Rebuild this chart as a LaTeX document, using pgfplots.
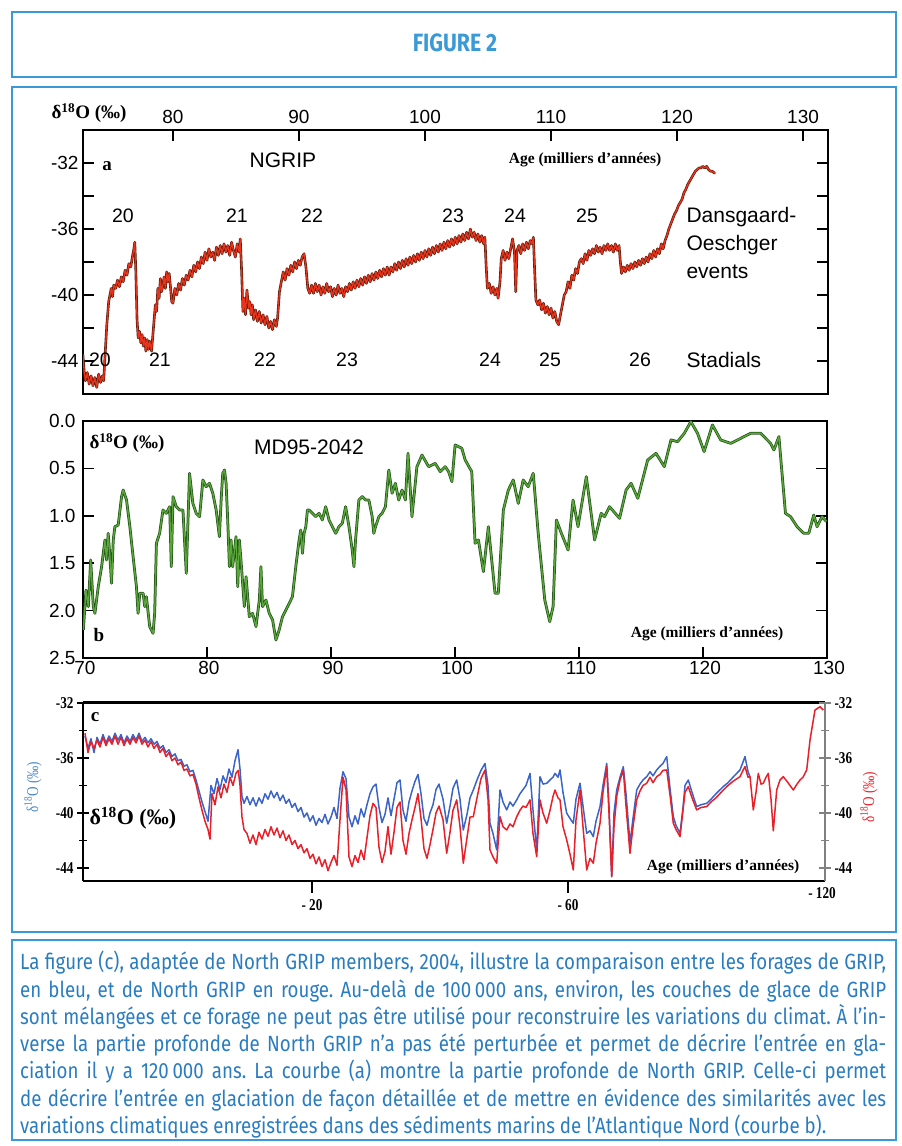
\documentclass[border=0pt]{standalone}
\usepackage{fontspec}
\setmainfont{Liberation Serif}
\setsansfont{Liberation Sans}
\newfontfamily\arial{Liberation Sans}
\newfontfamily\narrowserif[FakeStretch=0.8]{Liberation Serif}
\newfontfamily\capfont[FakeStretch=0.85]{Fira Sans}
\usepackage{pgfplots}
\usepackage{pgfplotstable}
\pgfplotsset{compat=1.18}
\definecolor{frameblue}{HTML}{3A9AD6}
\definecolor{capblue}{HTML}{2A7CC0}
\definecolor{ngred}{HTML}{E8341C}
\definecolor{ngdark}{HTML}{5A1A0A}
\definecolor{mdgreen}{HTML}{5BA83A}
\definecolor{mddark}{HTML}{24561A}
\definecolor{gripblue}{HTML}{3A64C8}
\definecolor{cred}{HTML}{E8202A}
\definecolor{lblblue}{HTML}{4A86C8}

\pgfplotstableread{
x y
72.85 -43.6
72.95 -44.6
73.05 -45.2
73.2 -44.7
73.35 -45.4
73.5 -44.9
73.65 -45.5
73.8 -45.0
73.95 -45.6
74.1 -44.8
74.25 -45.3
74.4 -44.9
74.5 -45.2
74.6 -43.8
74.75 -41.8
74.9 -40.4
75.0 -40.0
75.1 -39.6
75.2 -40.1
75.3 -39.4
75.45 -39.6
75.6 -39.1
75.75 -39.5
75.9 -38.9
76.05 -39.2
76.2 -38.5
76.35 -38.8
76.5 -38.1
76.65 -38.3
76.8 -37.6
76.9 -37.2
76.97 -36.8
77.05 -38.5
77.15 -41.5
77.24 -42.6
77.35 -42.2
77.45 -42.9
77.55 -42.4
77.65 -43.1
77.75 -42.6
77.85 -43.4
77.95 -42.7
78.05 -43.3
78.15 -42.8
78.3 -43.4
78.45 -42.0
78.6 -40.6
78.7 -41.0
78.8 -39.6
78.9 -40.2
79.0 -39.0
79.1 -39.8
79.2 -39.4
79.3 -38.9
79.4 -39.6
79.5 -38.6
79.6 -39.2
79.7 -38.7
79.8 -39.5
79.9 -40.4
80.0 -40.5
80.15 -39.6
80.3 -40.0
80.45 -39.3
80.6 -39.7
80.75 -39.0
80.9 -39.4
81.05 -38.8
81.2 -39.1
81.35 -38.5
81.5 -38.9
81.65 -38.2
81.8 -38.6
81.95 -38.0
82.1 -38.4
82.25 -37.7
82.4 -38.1
82.55 -37.4
82.7 -37.9
82.85 -37.2
83.0 -37.7
83.15 -37.4
83.3 -37.9
83.45 -37.1
83.6 -37.6
83.75 -37.0
83.9 -37.5
84.05 -36.9
84.2 -37.4
84.35 -37.0
84.5 -37.6
84.65 -36.8
84.8 -37.3
84.95 -37.7
85.1 -36.9
85.25 -37.4
85.34 -36.6
85.45 -38.6
85.55 -41.0
85.65 -40.2
85.75 -41.2
85.87 -39.7
86.0 -40.8
86.1 -40.4
86.2 -41.2
86.3 -40.6
86.4 -41.5
86.55 -40.9
86.7 -41.6
86.85 -41.0
87.0 -41.7
87.15 -41.2
87.3 -41.8
87.45 -41.3
87.6 -42.0
87.75 -41.6
87.9 -42.1
88.05 -41.5
88.2 -41.9
88.3 -41.4
88.45 -39.8
88.6 -39.2
88.75 -38.6
88.9 -39.1
89.05 -38.4
89.2 -38.8
89.35 -38.2
89.5 -38.6
89.65 -38.0
89.8 -38.4
89.95 -37.9
90.1 -38.2
90.25 -37.7
90.4 -37.5
90.55 -38.3
90.7 -39.6
90.85 -39.9
91.0 -39.4
91.15 -39.9
91.3 -39.3
91.45 -39.8
91.6 -39.4
91.75 -40.0
91.9 -39.5
92.05 -39.9
92.2 -39.3
92.35 -39.8
92.5 -39.5
92.65 -40.1
92.8 -39.6
92.95 -40.0
93.1 -39.4
93.25 -39.9
93.4 -39.6
93.55 -40.1
93.7 -39.5
93.85 -39.8
94.0 -39.3
94.15 -39.7
94.3 -39.2
94.45 -39.6
94.6 -39.1
94.75 -39.5
94.9 -39.0
95.05 -39.4
95.2 -38.9
95.35 -39.3
95.5 -38.8
95.65 -39.2
95.8 -38.7
95.95 -39.1
96.1 -38.6
96.25 -39.0
96.4 -38.5
96.55 -38.9
96.7 -38.4
96.85 -38.8
97.0 -38.3
97.15 -38.8
97.3 -38.3
97.45 -38.6
97.6 -38.1
97.75 -38.5
97.9 -38.0
98.05 -38.4
98.2 -37.9
98.35 -38.3
98.5 -37.8
98.65 -38.2
98.8 -37.7
98.95 -38.1
99.1 -37.6
99.25 -38.0
99.4 -37.5
99.55 -37.9
99.7 -37.4
99.85 -37.8
100.0 -37.3
100.15 -37.7
100.3 -37.2
100.45 -37.6
100.6 -37.1
100.75 -37.5
100.9 -37.0
101.05 -37.4
101.2 -36.9
101.35 -37.3
101.5 -36.8
101.65 -37.2
101.8 -36.7
101.95 -37.1
102.1 -36.6
102.25 -37.0
102.4 -36.5
102.55 -36.9
102.7 -36.4
102.85 -36.8
103.0 -36.3
103.15 -36.7
103.3 -36.2
103.45 -36.6
103.6 -36.0
103.75 -36.5
103.9 -36.2
104.05 -36.7
104.2 -36.3
104.35 -36.8
104.5 -36.4
104.65 -36.9
104.75 -36.5
104.85 -38.2
104.95 -39.6
105.1 -39.3
105.25 -39.9
105.4 -39.5
105.55 -40.0
105.7 -39.6
105.8 -40.2
105.95 -39.2
106.05 -37.8
106.2 -37.3
106.35 -37.9
106.5 -37.4
106.65 -37.8
106.8 -37.2
106.95 -36.6
107.1 -37.4
107.2 -39.8
107.3 -37.3
107.45 -37.0
107.6 -37.5
107.75 -36.9
107.9 -37.3
108.05 -36.8
108.2 -37.2
108.35 -36.7
108.5 -36.9
108.6 -36.5
108.7 -38.5
108.8 -40.3
108.95 -40.6
109.1 -40.3
109.25 -40.9
109.4 -40.5
109.55 -41.1
109.7 -40.7
109.85 -41.2
110.0 -40.8
110.15 -41.4
110.3 -41.0
110.45 -41.6
110.6 -41.8
110.75 -41.2
110.9 -40.6
111.05 -40.0
111.2 -39.8
111.35 -39.2
111.5 -39.6
111.65 -38.8
111.8 -39.1
111.95 -38.4
112.1 -38.7
112.25 -38.0
112.4 -37.8
112.55 -38.1
112.7 -37.5
112.85 -37.9
113.0 -37.3
113.15 -37.6
113.3 -37.2
113.45 -37.5
113.6 -37.0
113.75 -37.4
113.9 -37.1
114.05 -37.5
114.2 -37.0
114.35 -37.3
114.5 -36.9
114.65 -37.3
114.8 -37.0
114.95 -37.4
115.1 -36.9
115.25 -37.3
115.4 -37.0
115.5 -38.0
115.6 -38.7
115.75 -38.3
115.9 -38.6
116.05 -38.2
116.2 -38.5
116.35 -38.1
116.5 -38.4
116.65 -38.0
116.8 -38.3
116.95 -37.9
117.1 -38.2
117.25 -37.8
117.4 -38.1
117.55 -37.7
117.7 -38.0
117.85 -37.5
118.0 -37.8
118.15 -37.3
118.3 -37.7
118.45 -37.2
118.6 -37.5
118.75 -36.9
118.9 -37.2
119.05 -36.7
119.2 -36.4
119.35 -36.0
119.5 -35.7
119.65 -35.4
119.8 -35.1
119.95 -34.9
120.1 -34.6
120.25 -34.4
120.4 -34.2
120.55 -33.8
120.7 -33.6
120.85 -33.3
121.0 -33.1
121.15 -32.9
121.3 -32.7
121.45 -32.5
121.6 -32.4
121.75 -32.3
121.9 -32.3
122.05 -32.2
122.2 -32.3
122.35 -32.2
122.5 -32.4
122.65 -32.5
122.8 -32.5
122.95 -32.6
123.05 -32.6
}\ngrip

\pgfplotstableread{
x y
70.03 2.204
70.24 1.783
70.43 1.958
70.62 1.466
70.83 1.958
70.96 2.029
71.23 1.748
71.50 1.537
71.77 1.255
71.90 1.466
72.03 1.185
72.17 1.431
72.30 1.712
72.44 1.255
72.57 1.115
72.84 1.097
73.11 0.798
73.24 0.728
73.51 0.833
73.78 1.115
74.04 1.431
74.31 1.748
74.44 2.029
74.58 1.818
74.85 1.818
74.98 1.958
75.11 1.853
75.38 2.169
75.65 2.240
75.78 2.029
75.92 1.290
76.18 1.185
76.45 0.939
76.72 0.974
76.99 0.904
77.12 1.537
77.26 0.798
77.52 0.904
77.79 0.939
78.06 0.939
78.33 1.607
78.59 0.552
78.86 0.869
79.13 0.974
79.40 1.009
79.67 0.622
79.93 0.693
80.20 0.657
80.47 0.763
80.74 0.939
81.00 1.220
81.14 0.833
81.27 0.552
81.41 0.517
81.54 0.657
81.67 1.044
81.81 1.537
81.94 1.255
82.07 1.537
82.34 1.220
82.48 1.748
82.61 1.255
82.74 1.466
83.01 1.958
83.15 1.642
83.41 2.064
83.68 2.029
83.95 2.169
84.22 1.888
84.35 1.537
84.48 1.958
84.75 1.888
85.02 2.029
85.29 2.099
85.56 2.310
85.82 2.205
86.09 2.064
86.36 1.994
86.63 1.923
86.89 1.853
87.16 1.537
87.43 1.255
87.56 1.150
87.70 1.396
87.83 1.185
87.97 1.115
88.10 0.939
88.23 0.939
88.50 0.974
88.77 1.009
89.04 0.974
89.30 1.044
89.57 0.904
89.84 1.044
90.11 1.115
90.38 1.185
90.64 1.115
90.91 1.079
91.18 0.904
91.45 1.115
91.71 1.361
91.85 1.537
91.98 1.255
92.25 0.833
92.52 0.798
92.78 0.833
93.05 0.833
93.32 1.009
93.45 1.185
93.59 1.115
93.86 1.009
94.12 0.974
94.39 0.904
94.66 0.517
94.93 0.763
95.19 0.657
95.46 0.833
95.73 0.728
96.00 0.833
96.21 0.341
96.53 1.009
96.93 0.482
97.34 0.359
97.87 0.482
98.41 0.447
98.81 0.534
99.21 0.482
99.48 0.534
99.75 0.640
100.01 0.253
100.55 0.288
100.82 0.411
101.35 0.534
101.62 1.290
101.89 1.255
102.29 1.589
102.69 1.115
103.23 1.818
103.49 1.818
103.90 0.939
104.30 0.728
104.70 0.622
105.10 0.869
105.50 0.622
105.90 0.693
106.31 0.552
106.71 1.185
107.24 1.888
107.64 2.117
107.91 1.958
108.18 1.044
108.58 1.185
109.12 1.361
109.52 0.833
109.92 1.115
110.59 0.587
111.26 1.255
111.79 0.974
112.06 1.009
112.46 0.904
113.27 1.027
113.80 0.728
114.20 0.657
114.74 0.816
115.54 0.411
116.21 0.341
116.88 0.482
117.42 0.200
117.95 0.218
118.49 0.130
119.02 0.007
119.56 0.130
120.09 0.323
120.76 0.042
121.43 0.200
122.24 0.236
123.04 0.183
123.84 0.130
124.65 0.130
125.45 0.236
125.72 0.306
126.12 0.165
126.65 0.974
127.06 1.009
127.59 1.115
128.13 1.185
128.53 1.185
128.93 0.992
129.20 1.115
129.60 1.009
129.95 1.060
}\mdcore

\pgfplotstableread{
x y
2 -34.4
5 -35.3
8 -34.6
11 -35.6
14 -34.5
17 -35.0
20 -34.3
23 -34.9
26 -34.4
29 -34.8
32 -34.2
35 -34.7
38 -34.3
41 -34.9
44 -34.4
47 -34.8
50 -34.3
53 -34.7
56 -34.2
59 -34.8
62 -34.5
65 -34.9
68 -34.6
71 -35.0
74 -34.8
77 -35.3
80 -35.1
83 -35.6
86 -35.4
89 -35.9
92 -35.7
95 -36.2
98 -36.1
101 -36.6
104 -36.5
107 -37.0
110 -36.9
113 -37.6
116 -38.4
119 -39.2
122 -39.9
125 -40.6
128 -38.0
131 -38.6
134 -37.5
137 -38.3
140 -37.3
143 -37.8
146 -36.8
149 -37.4
152 -36.2
155 -35.4
157 -36.8
159 -38.8
161 -39.3
164 -38.8
167 -39.4
170 -38.9
173 -39.5
176 -38.9
179 -39.3
182 -38.6
185 -39.0
188 -38.4
191 -38.9
194 -38.5
197 -39.1
200 -38.7
203 -39.3
206 -39.0
209 -39.6
212 -39.3
215 -39.9
218 -39.6
221 -40.3
224 -40.0
227 -40.6
230 -40.2
233 -40.9
236 -40.4
239 -40.7
242 -40.1
245 -40.8
248 -40.3
251 -39.6
254 -40.4
257 -38.2
260 -37.0
263 -37.5
266 -40.3
269 -41.0
272 -40.2
275 -40.8
278 -39.7
281 -40.3
284 -39.4
287 -38.6
290 -38.1
293 -37.9
296 -39.6
299 -40.7
302 -40.1
305 -38.9
308 -40.2
311 -39.0
314 -37.8
317 -37.6
320 -39.8
323 -40.6
326 -39.2
329 -38.4
332 -37.7
335 -37.2
338 -38.6
341 -40.4
344 -40.9
347 -40.0
350 -39.4
353 -38.3
356 -37.9
360 -39.0
363.7 -40.75
367 -39.5
370 -38.2
373.7 -37.6
377 -39.0
380.3 -41.24
384 -40.1
387 -38.9
390.3 -38.33
394 -37.6
398 -36.9
402 -36.4
405 -38.0
407 -40.75
410 -41.5
413.7 -42.69
417 -38.33
420 -39.2
423.7 -39.78
427 -39.2
430 -39.5
433.7 -39.05
437 -38.6
440 -38.3
443 -38.0
447 -37.12
450 -39.8
453.7 -42.69
457 -37.36
460 -37.9
463.7 -37.84
467 -37.6
470 -37.4
472 -37.12
475 -37.4
477 -36.87
480 -38.5
483.7 -40.02
487 -40.4
490.3 -40.75
493 -39.0
497 -37.84
500 -39.5
503.7 -41.48
507 -41.3
510.3 -41.72
513 -40.6
517 -39.54
520 -38.0
523.7 -36.39
526 -39.5
528.7 -44.63
531 -40.0
533.7 -38.33
537 -37.4
540.3 -36.63
543 -38.6
547 -42.21
550 -40.4
553.7 -38.33
557 -37.9
560 -37.6
563.7 -37.36
567 -37.0
570 -37.3
573.7 -36.87
577 -36.6
580 -36.4
583.7 -35.90
587 -38.2
590.3 -40.27
593 -40.9
597 -41.48
600 -39.6
602 -38.0
605.3 -37.60
609 -38.5
613.7 -39.54
618 -39.4
623.7 -39.30
628 -39.0
633 -38.6
640.3 -38.08
645 -37.8
650 -37.4
657 -36.87
660 -36.3
662 -35.90
665 -37.0
667 -37.36
}\grip

\pgfplotstableread{
x y
2 -34.2
5 -35.6
8 -34.8
11 -35.3
14 -34.7
17 -35.2
20 -34.5
23 -35.1
26 -34.6
29 -35.0
32 -34.4
35 -35.0
38 -34.5
41 -35.1
44 -34.6
47 -35.0
50 -34.5
53 -34.9
56 -34.4
59 -35.0
62 -34.7
65 -35.2
68 -34.8
71 -35.3
74 -35.0
77 -35.6
80 -35.3
83 -35.9
86 -35.6
89 -36.2
92 -36.0
95 -36.5
98 -36.3
101 -36.9
104 -36.8
107 -37.3
110 -37.2
113 -37.9
116 -38.9
119 -39.8
122 -40.6
125 -41.2
127 -41.9
129 -38.6
132 -39.4
135 -38.1
138 -38.9
141 -37.9
144 -38.5
147 -37.4
150 -38.0
153 -37.1
155.3 -36.9
157 -38.0
159 -40.3
161 -41.2
164 -41.5
167 -42.2
170 -41.6
173 -42.3
176 -41.4
179 -41.9
182 -41.2
185 -41.7
188 -41.0
191 -41.6
194 -41.1
197 -41.8
200 -41.3
203 -42.0
206 -41.6
209 -42.3
212 -42.0
215 -42.6
218 -42.3
221 -42.9
224 -42.6
227 -43.3
230 -43.0
233 -43.7
236 -43.2
239 -43.9
242 -43.4
245 -44.2
248 -43.6
251 -43.1
254 -43.8
257 -40.5
260 -37.4
263 -38.3
266 -43.2
269 -43.9
272 -43.1
275 -43.6
278 -42.7
281 -43.4
284 -41.8
287 -40.2
290 -39.3
293 -39.6
296 -42.5
299 -43.6
302 -42.8
305 -41.0
308 -43.0
311 -41.4
314 -39.6
317 -39.2
320 -42.0
323 -43.0
326 -41.5
329 -40.5
332 -39.6
335 -38.6
338 -40.4
341 -42.6
344 -43.3
347 -42.3
350 -41.2
353 -40.0
356 -39.5
360 -40.5
363.7 -42.93
367 -41.4
370 -39.8
373.7 -39.05
377 -41.0
380.3 -43.66
384 -41.8
387 -40.3
390.3 -40.27
394 -38.9
398 -37.5
402 -36.87
405 -39.0
407 -42.69
410 -43.2
413.7 -43.66
417 -40.27
420 -41.0
423.7 -41.24
427 -40.8
430 -41.0
433.7 -40.27
437 -39.8
440 -39.5
443 -39.6
447 -39.05
450 -41.5
453.7 -43.18
457 -39.05
460 -40.0
463.7 -40.75
467 -39.8
470 -38.8
472 -38.33
475 -38.9
477 -39.05
480 -41.0
483.7 -41.96
487 -43.0
490.3 -44.15
493 -40.5
497 -38.33
500 -41.0
503.7 -44.15
507 -43.3
510.3 -43.66
513 -42.2
517 -40.75
520 -38.5
523.7 -36.63
526 -40.0
528.7 -44.63
531 -41.0
533.7 -38.81
537 -37.6
540.3 -36.87
543 -39.5
547 -42.93
550 -41.0
553.7 -39.05
557 -38.4
560 -38.0
563.7 -37.84
567 -37.4
570 -37.8
573.7 -37.36
577 -37.2
580 -36.9
583.7 -36.87
587 -38.7
590.3 -40.75
593 -41.2
597 -41.72
600 -39.8
602 -38.5
605.3 -38.08
609 -38.9
613.7 -39.78
618 -39.6
623.7 -39.54
628 -39.2
633 -38.9
640.3 -38.33
645 -38.0
650 -37.7
657 -37.36
660 -36.9
662 -36.63
665 -37.4
667 -37.36
670.3 -39.78
673 -38.5
675.3 -37.12
678 -37.9
680.3 -37.84
683 -37.4
685.3 -37.12
688 -39.0
690.3 -41.3
693.7 -38.33
697 -37.6
700.3 -37.36
705 -37.8
710.3 -38.33
714 -37.9
717 -37.60
720 -37.4
723.7 -36.87
727 -34.69
732 -32.51
737 -32.27
740.3 -32.51
}\ngripc

\begin{document}
\begin{tikzpicture}
\path[use as bounding box] (0pt,0pt) rectangle (902pt,1146pt);
% frames
\draw[frameblue, line width=1.6pt] (12pt,1069pt) rectangle (896pt,1134pt);
\draw[frameblue, line width=1.6pt] (12pt,214pt) rectangle (896pt,1059pt);
\draw[frameblue, line width=1.6pt] (12pt,6pt) rectangle (896pt,206pt);
\node[text=frameblue, font=\capfont\bfseries\fontsize{25}{25}\selectfont] at (455pt,1103pt) {FIGURE 2};

% ---------- panel a ----------
\begin{axis}[
  at={(83pt,752pt)}, anchor=south west,
  scale only axis, width=745pt, height=264pt,
  xmin=72.86, xmax=131.98, ymin=-46, ymax=-30,
  axis line style={line width=1.8pt},
  tick style={black, line width=1.6pt},
  tick align=inside,
  xtick pos=right, xticklabel pos=right,
  xtick={80,90,100,110,120,130}, xticklabels={80,90,100,110,120,130},
  ytick={-44,-40,-36,-32}, yticklabels={-44,-40,-36,-32},
  minor ytick={-42,-38,-34},
  major tick length=11pt, minor tick length=11pt,
  ticklabel style={font=\arial\fontsize{19}{19}\selectfont},
  yticklabel style={xshift=-1pt},
  xticklabel style={yshift=3pt},
  clip mode=individual,
]
\addplot[ngdark, line width=2.6pt, line join=round] table {\ngrip};
\addplot[ngred, line width=1.3pt, line join=round] table {\ngrip};
\end{axis}
\node[anchor=east, font=\bfseries\fontsize{19}{19}\selectfont] at (130pt,1033pt) {δ\textsuperscript{18}O (‰)};
\node[font=\bfseries\fontsize{19}{19}\selectfont] at (107pt,980pt) {a};
\node[font=\arial\fontsize{21}{21}\selectfont] at (283pt,986pt) {NGRIP};
\node[font=\bfseries\fontsize{15.5}{15.5}\selectfont] at (585pt,986pt) {Age (milliers d'années)};
\begin{scope}[every node/.style={font=\arial\fontsize{19.5}{19.5}\selectfont}]
\node at (123pt,930pt) {20};
\node at (237pt,930pt) {21};
\node at (312pt,930pt) {22};
\node at (453pt,930pt) {23};
\node at (515pt,930pt) {24};
\node at (587pt,930pt) {25};
\node at (100pt,786pt) {20};
\node at (160pt,786pt) {21};
\node at (265pt,786pt) {22};
\node at (347pt,786pt) {23};
\node at (490pt,786pt) {24};
\node at (550pt,786pt) {25};
\node at (640pt,786pt) {26};
\end{scope}
\begin{scope}[every node/.style={font=\arial\fontsize{21}{21}\selectfont, anchor=west}]
\node at (683pt,786pt) {Stadials};
\node at (683pt,929pt) {Dansgaard-};
\node at (683pt,901pt) {Oeschger};
\node at (683pt,874pt) {events};
\end{scope}

% ---------- panel b ----------
\begin{axis}[
  at={(83pt,488pt)}, anchor=south west,
  scale only axis, width=744pt, height=237pt,
  xmin=70, xmax=130, ymin=0, ymax=2.5, y dir=reverse,
  axis line style={line width=1.8pt},
  tick style={black, line width=1.6pt},
  tick align=inside,
  xtick pos=left,
  xtick={70,80,90,100,110,120,130}, xticklabels={70,80,90,100,110,120,130},
  ytick={0,0.5,1,1.5,2,2.5}, yticklabels={0.0,0.5,1.0,1.5,2.0,2.5},
  major tick length=11pt,
  ticklabel style={font=\arial\fontsize{19}{19}\selectfont},
  yticklabel style={xshift=-4pt},
  xticklabel style={xshift=2pt},
  clip mode=individual,
]
\addplot[mddark, line width=2.8pt, line join=round] table {\mdcore};
\addplot[mdgreen, line width=1.3pt, line join=round] table {\mdcore};
\end{axis}
\node[anchor=west, font=\bfseries\fontsize{19}{19}\selectfont] at (86pt,703pt) {δ\textsuperscript{18}O (‰)};
\node[font=\arial\fontsize{21}{21}\selectfont] at (309pt,699pt) {MD95-2042};
\node[font=\bfseries\fontsize{19}{19}\selectfont] at (99pt,511pt) {b};
\node[font=\bfseries\fontsize{15.5}{15.5}\selectfont] at (707pt,512pt) {Age (milliers d'années)};

% ---------- panel c ----------
\begin{axis}[
  at={(83pt,265pt)}, anchor=south west,
  scale only axis, width=742pt, height=178pt,
  xmin=0, xmax=742, ymin=-44.95, ymax=-32,
  axis line style={draw=none},
  tick style={black, line width=1.3pt},
  tick align=outside,
  xtick pos=left,
  xtick={229,485}, xticklabels={- 20,- 60},
  extra x ticks={739}, extra x tick labels={- 120},
  extra x tick style={major tick length=0pt},
  ytick=\empty,
  major tick length=12pt,
  ticklabel style={font=\narrowserif\bfseries\fontsize{16.5}{16.5}\selectfont},
  xticklabel style={yshift=-3pt},
  clip mode=individual,
]
\addplot[gripblue, line width=1.5pt, line join=round] table {\grip};
\addplot[cred, line width=1.5pt, line join=round] table {\ngripc};
\draw[line width=3pt] (rel axis cs:0,1) -- (rel axis cs:1,1);
\draw[line width=2.5pt] (rel axis cs:0,0) -- (rel axis cs:1,0);
\draw[line width=1.8pt] (rel axis cs:0,0) -- (rel axis cs:0,1);
\end{axis}
\begin{axis}[
  at={(83pt,265pt)}, anchor=south west,
  scale only axis, width=742pt, height=178pt,
  xmin=0, xmax=742, ymin=-44.95, ymax=-32,
  axis x line=none, axis y line*=left,
  y axis line style={draw=none},
  tick style={black, line width=1.3pt},
  ytick={-44,-40,-36,-32}, yticklabels={-44,-40,-36,-32},
  minor ytick={-42,-38,-34},
  tick align=center,
  major tick length=12pt, minor tick length=8pt,
  ticklabel style={font=\narrowserif\bfseries\fontsize{16.5}{16.5}\selectfont},
]
\end{axis}
\begin{axis}[
  at={(83pt,265pt)}, anchor=south west,
  scale only axis, width=742pt, height=178pt,
  xmin=0, xmax=742, ymin=-44.95, ymax=-32,
  axis x line=none, axis y line*=right,
  y axis line style={gray, line width=1.2pt, -},
  tick style={gray, line width=1.3pt},
  ytick={-44,-40,-36,-32}, yticklabels={-44,-40,-36,-32},
  minor ytick={-42,-38,-34},
  tick align=center,
  major tick length=12pt, minor tick length=8pt,
  ticklabel style={font=\narrowserif\bfseries\fontsize{16.5}{16.5}\selectfont},
]
\end{axis}
\node[font=\bfseries\fontsize{19}{19}\selectfont] at (95pt,429pt) {c};
\node[anchor=west, font=\bfseries\fontsize{22}{22}\selectfont] at (86pt,328pt) {δ\textsuperscript{18}O (‰)};
\node[fill=white, inner sep=1pt, font=\bfseries\fontsize{15.5}{15.5}\selectfont] at (723pt,279pt) {Age (milliers d'années)};
\node[rotate=90, text=lblblue, font=\narrowserif\fontsize{16.5}{16.5}\selectfont] at (33pt,359pt) {δ\textsuperscript{18}O (‰)};
\node[rotate=90, text=cred, font=\narrowserif\fontsize{16.5}{16.5}\selectfont] at (869pt,349pt) {δ\textsuperscript{18}O (‰)};

% ---------- caption ----------
\node[anchor=north west, inner sep=0pt, align=left, text=capblue,
      font=\capfont\frenchspacing\fontsize{22}{27.3}\selectfont] at (20pt,195pt) {%
\makebox[866pt][s]{La figure (c), adaptée de North GRIP members, 2004, illustre la comparaison entre les forages de GRIP,}\\
\makebox[866pt][s]{en bleu, et de North GRIP en rouge. Au-delà de 100\,000 ans, environ, les couches de glace de GRIP}\\
\makebox[866pt][s]{sont mélangées et ce forage ne peut pas être utilisé pour reconstruire les variations du climat. À l’in-}\\
\makebox[866pt][s]{verse la partie profonde de North GRIP n’a pas été perturbée et permet de décrire l’entrée en gla-}\\
\makebox[866pt][s]{ciation il y a 120\,000 ans. La courbe (a) montre la partie profonde de North GRIP. Celle-ci permet}\\
\makebox[866pt][s]{de décrire l’entrée en glaciation de façon détaillée et de mettre en évidence des similarités avec les}\\
\makebox[866pt][l]{variations climatiques enregistrées dans des sédiments marins de l’Atlantique Nord (courbe b).}};
\end{tikzpicture}
\end{document}
